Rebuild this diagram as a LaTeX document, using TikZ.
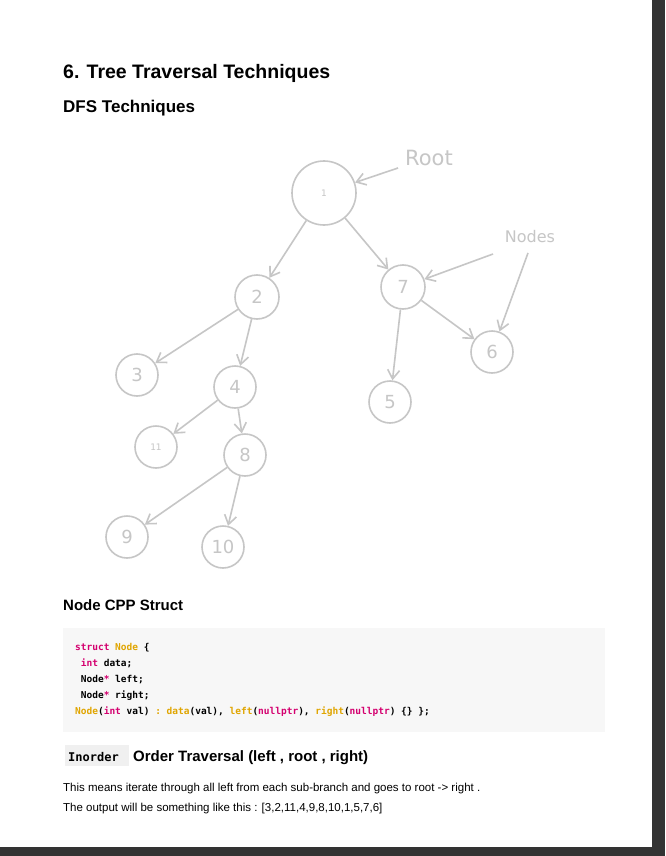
\documentclass[tikz,border=0pt]{standalone}
\usepackage{fontspec}
\setmainfont{Liberation Sans}
\setmonofont{DejaVu Sans Mono}
\usetikzlibrary{arrows.meta}
\definecolor{sk}{HTML}{C6C6C6}
\definecolor{pk}{HTML}{D4006F}
\definecolor{gd}{HTML}{E0A500}
\begin{document}
\begin{tikzpicture}[x=1pt,y=-1pt,
  tn/.style={circle,draw=sk,line width=1.6pt,text=sk,font=\fontspec{DejaVu Sans}\fontsize{18}{18}\selectfont,minimum size=42pt,inner sep=0pt},
  ar/.style={draw=sk,line width=1.6pt,-{Straight Barb[length=9pt,width=12pt]}},
  lab/.style={text=sk,font=\fontspec{DejaVu Sans}\fontsize{16}{16}\selectfont},
  code/.style={anchor=base west,font=\ttfamily\fontsize{9.5}{10}\selectfont\bfseries,inner sep=0pt},
  h/.style={anchor=base west,inner sep=0pt,font=\bfseries}]
\fill[black!80] (0,0) rectangle (665,856);
\fill[white] (0,0) rectangle (652,847);
\node[h,font=\bfseries\fontsize{19.5}{19}\selectfont] (t1) at (63,79) {6. Tree Traversal Techniques};
\node[h,font=\bfseries\fontsize{17}{17}\selectfont] (t2) at (63,113) {DFS Techniques};
% tree
\node[tn,minimum size=64pt,font=\fontspec{DejaVu Sans}\fontsize{9}{9}\selectfont] (n1) at (324,193) {1};
\node[tn,minimum size=44pt] (n2) at (257,297) {2};
\node[tn,minimum size=44pt] (n7) at (403,287) {7};
\node[tn] (n3) at (137,375) {3};
\node[tn] (n4) at (235,387) {4};
\node[tn] (n6) at (492,352) {6};
\node[tn] (n5) at (390,402) {5};
\node[tn,font=\fontspec{DejaVu Sans}\fontsize{9}{9}\selectfont] (n11) at (156,447) {11};
\node[tn] (n8) at (245,455) {8};
\node[tn] (n9) at (127,537) {9};
\node[tn] (n10) at (223,547) {10};
\node[lab,font=\fontspec{DejaVu Sans}\fontsize{21}{21}\selectfont] (root) at (429,158) {Root};
\node[lab] (nodes) at (530,237) {Nodes};
\coordinate (ra) at (398,168); \coordinate (na) at (493,254); \coordinate (nb) at (528,253);
\draw[ar] (ra) -- (n1);
\draw[ar] (na) -- (n7);
\draw[ar] (nb) -- (n6);
\draw[ar] (n1) -- (n2);
\draw[ar] (n1) -- (n7);
\draw[ar] (n2) -- (n3);
\draw[ar] (n2) -- (n4);
\draw[ar] (n7) -- (n5);
\draw[ar] (n7) -- (n6);
\draw[ar] (n4) -- (n11);
\draw[ar] (n4) -- (n8);
\draw[ar] (n8) -- (n9);
\draw[ar] (n8) -- (n10);
% struct
\node[h,font=\bfseries\fontsize{15}{15}\selectfont] (t3) at (63,610) {Node CPP Struct};
\fill[black!3] (63,628) rectangle (605,732);
\node[code] (c1) at (75,650) {\textcolor{pk}{struct} \textcolor{gd}{Node} \{};
\node[code] (c2) at (75,666) {\ \textcolor{pk}{int} data;};
\node[code] (c3) at (75,682) {\ Node\textcolor{pk}{*} left;};
\node[code] (c4) at (75,698) {\ Node\textcolor{pk}{*} right;};
\node[code] (c5) at (75,714) {\textcolor{gd}{Node}(\textcolor{pk}{int} val) \textcolor{gd}{:} \textcolor{gd}{data}(val), \textcolor{gd}{left}(\textcolor{pk}{nullptr}), \textcolor{gd}{right}(\textcolor{pk}{nullptr}) \{\} \};};
\fill[black!6] (65,745) rectangle (129,766);
\node[h,font=\ttfamily\bfseries\fontsize{12}{12}\selectfont] (io) at (68,761) {Inorder};
\node[h,font=\bfseries\fontsize{15}{15}\selectfont] (t4) at (133,761) {Order Traversal (left , root , right)};
\node[anchor=base west,inner sep=0pt,font=\fontsize{11.5}{12}\selectfont] (p1) at (63,791) {This means iterate through all left from each sub-branch and goes to root -> right .};
\node[anchor=base west,inner sep=0pt,font=\fontsize{11.5}{12}\selectfont] (p2) at (63,811) {The output will be something like this : [3,2,11,4,9,8,10,1,5,7,6]};
\end{tikzpicture}
\end{document}
